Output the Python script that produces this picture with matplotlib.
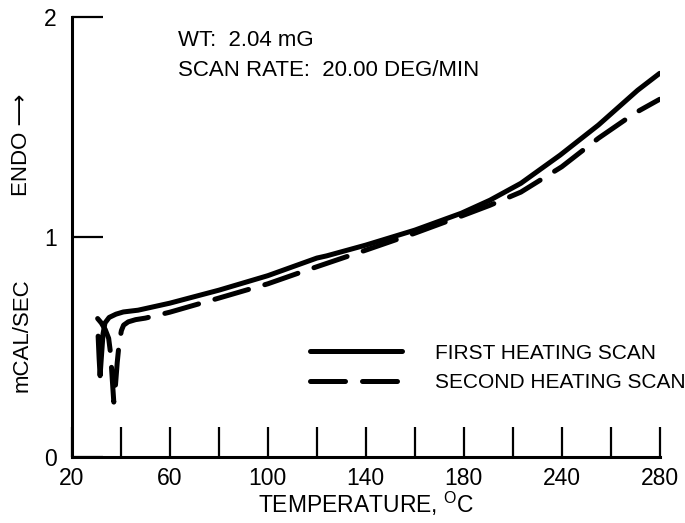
import numpy as np
import matplotlib.pyplot as plt

# temperature axis of the recorder is not linear: ticks are evenly spaced
TICK_TEMPS = [20, 40, 60, 80, 100, 120, 140, 160, 180, 210, 240, 260, 280]
LABELED = [20, 60, 100, 140, 180, 240, 280]

# first heating scan (solid)
temp_1 = [30.7, 31.1, 31.5, 32.0, 32.7, 33.5, 35.2, 38, 41, 47, 60, 80, 100,
          115, 120, 124, 140, 160, 179, 196, 215, 239, 255, 271, 280]
heat_1 = [0.55, 0.45, 0.37, 0.45, 0.56, 0.61, 0.635, 0.65, 0.66, 0.668, 0.70,
          0.759, 0.825, 0.885, 0.905, 0.915, 0.964, 1.032, 1.109, 1.168,
          1.245, 1.373, 1.51, 1.668, 1.745]

# second heating scan (dashed)
temp_2 = [30.5, 32.0, 33.6, 35.0, 35.8, 36.5, 37.1, 37.8, 38.5, 39.3, 40.2,
          41.1, 43, 46, 50, 60, 80, 100, 118, 140, 160, 180, 196, 215, 240,
          255, 270, 280]
heat_2 = [0.63, 0.61, 0.58, 0.54, 0.47, 0.35, 0.25, 0.33, 0.43, 0.52, 0.575,
          0.60, 0.615, 0.625, 0.632, 0.659, 0.723, 0.788, 0.858, 0.941, 1.018,
          1.10, 1.145, 1.205, 1.32, 1.45, 1.565, 1.627]

idx = np.arange(len(TICK_TEMPS))


def fwd(t):
    return np.interp(t, TICK_TEMPS, idx)


def inv(i):
    return np.interp(i, idx, TICK_TEMPS)


plt.rcParams['font.family'] = ['Liberation Sans', 'DejaVu Sans']

fig = plt.figure(figsize=(6.85, 5.23), dpi=100)
ax = fig.add_axes([0.105, 0.126, 0.858, 0.841])
ax.set_xscale('function', functions=(fwd, inv))

ax.plot(temp_1, heat_1, color='black', lw=3.6, solid_capstyle='round',
        solid_joinstyle='round', label='FIRST HEATING SCAN')
ax.plot(temp_2, heat_2, color='black', lw=3.6, dashes=(7, 3.4),
        dash_capstyle='round', dash_joinstyle='round',
        label='SECOND HEATING SCAN')

ax.set_xlim(20, 280)
ax.set_ylim(0, 2)

ax.spines['top'].set_visible(False)
ax.spines['right'].set_visible(False)
ax.spines['left'].set_linewidth(2.2)
ax.spines['bottom'].set_linewidth(2.2)

ax.set_xticks(TICK_TEMPS)
ax.set_xticklabels([str(t) if t in LABELED else '' for t in TICK_TEMPS])
ax.set_yticks([0, 1, 2])
ax.set_yticklabels(['0', '1', '2'])
ax.tick_params(axis='x', direction='in', length=21.5, width=1.6, pad=7,
               labelsize=16.5)
ax.tick_params(axis='y', direction='in', length=22, width=1.6, pad=11,
               labelsize=16.5)

ax.set_xlabel('TEMPERATURE, $^{\\mathregular{O}}$C', fontsize=16.5)
ax.xaxis.set_label_coords(0.5, -0.074)

fig.text(22 / 685, 1 - 335 / 523, 'mCAL/SEC', rotation=90, fontsize=16,
         ha='center', va='center')
fig.text(22 / 685, 1 - 145 / 523, 'ENDO \u27f6', rotation=90, fontsize=16,
         ha='center', va='center')

fig.text(178 / 685, 1 - 41 / 523, 'WT:  2.04 mG', fontsize=16, va='center')
fig.text(178 / 685, 1 - 70 / 523, 'SCAN RATE:  20.00 DEG/MIN', fontsize=16,
         va='center')

ax.legend(frameon=False, loc='center left',
          bbox_to_anchor=(310 / 685, 1 - 368 / 523),
          bbox_transform=fig.transFigure, handlelength=4.4,
          handletextpad=1.6, labelspacing=0.5, borderpad=0,
          borderaxespad=0, fontsize=15)

fig.savefig('out.png', dpi=100)
